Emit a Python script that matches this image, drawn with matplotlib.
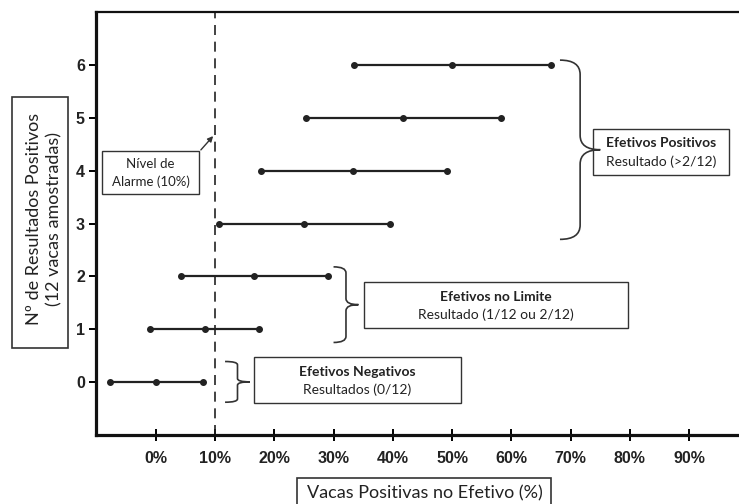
import matplotlib
matplotlib.use('Agg')
import matplotlib.pyplot as plt
from matplotlib.patches import Rectangle, PathPatch, FancyArrowPatch
from matplotlib.path import Path

# ---- data ----
results = [0, 1, 2, 3, 4, 5, 6]
lower = [-7.7, -1.0, 4.2, 10.6, 17.7, 25.3, 33.5]
point = [0.0, 8.3, 16.6, 25.0, 33.3, 41.7, 50.0]
upper = [7.9, 17.5, 29.1, 39.5, 49.1, 58.2, 66.7]
xticks = [0, 10, 20, 30, 40, 50, 60, 70, 80, 90]
xticklabels = ['0%', '10%', '20%', '30%', '40%', '50%', '60%', '70%', '80%', '90%']
yticks = [0, 1, 2, 3, 4, 5, 6]
alarm_level = 10
ylabel_lines = 'Nº de Resultados Positivos\n(12 vacas amostradas)'
xlabel_text = 'Vacas Positivas no Efetivo (%)'

W, H = 739, 504
fig = plt.figure(figsize=(W / 100, H / 100), dpi=100)
def fx(x): return x / W
def fy(y): return 1 - y / H

ax = fig.add_axes([fx(96), fy(435), fx(739) - fx(96), fy(12) - fy(435)])
ax.set_xlim(-10.07, 98.4)
ax.set_ylim(-1, 7)

for y, lo, mid, hi in zip(results, lower, point, upper):
    ax.plot([lo, hi], [y, y], color='#222222', lw=1.6, solid_capstyle='butt', zorder=3)
    ax.plot([lo, mid, hi], [y, y, y], 'o', color='#222222', ms=4, zorder=4)

ax.axvline(alarm_level, color='#222222', lw=1.2, ls=(0, (6, 4)), zorder=2)

ax.spines['right'].set_visible(False)
for s in ['left', 'bottom']:
    ax.spines[s].set_linewidth(2.3)
ax.spines['top'].set_linewidth(1.6)
for s in ax.spines.values():
    s.set_color('#111111')

ax.set_xticks(xticks)
ax.set_xticklabels(xticklabels)
ax.set_yticks(yticks)
ax.tick_params(axis='x', direction='inout', length=9, width=1.4, pad=7)
ax.tick_params(axis='y', direction='out', length=5, width=1.4, pad=3)
for lab in ax.get_xticklabels() + ax.get_yticklabels():
    lab.set_fontfamily('Liberation Sans')
    lab.set_fontweight('bold')
    lab.set_fontsize(11.5)
    lab.set_color('#222222')

# ---- braces ----
def brace(x0, yb, yt, w, ymid=None):
    if ymid is None:
        ymid = (yb + yt) / 2
    xm = x0 + w / 2
    r = (yt - yb) * 0.08
    verts = [(x0, yt), (xm, yt), (xm, yt - r), (xm, ymid + r),
             (xm, ymid), (x0 + w, ymid), (xm, ymid), (xm, ymid - r),
             (xm, yb + r), (xm, yb), (x0, yb)]
    codes = [Path.MOVETO, Path.CURVE3, Path.CURVE3, Path.LINETO,
             Path.CURVE3, Path.CURVE3, Path.CURVE3, Path.CURVE3,
             Path.LINETO, Path.CURVE3, Path.CURVE3]
    ax.add_patch(PathPatch(Path(verts, codes), fill=False, lw=1.2,
                           edgecolor='#333333', clip_on=False))

brace(68.2, 2.7, 6.09, 6.8)
brace(30.0, 0.75, 2.18, 4.2)
brace(11.7, -0.38, 0.39, 4.2)

# ---- boxes (figure pixel coordinates) ----
def box(x0, y0, x1, y1, lw=1.0):
    fig.add_artist(Rectangle((fx(x0), fy(y1)), fx(x1) - fx(x0), fy(y0) - fy(y1),
                             transform=fig.transFigure, fill=False,
                             edgecolor='#333333', lw=lw))

fam = ['Lato', 'DejaVu Sans']
bsz = 10

box(593, 129, 729, 175)
fig.text(fx(661), fy(143), 'Efetivos Positivos', ha='center', va='center',
         fontsize=bsz, fontweight='bold', family=fam, color='#222222')
fig.text(fx(661), fy(162), 'Resultado (>2/12)', ha='center', va='center',
         fontsize=bsz, family=fam, color='#222222')

box(364, 282, 628, 328)
fig.text(fx(496), fy(297), 'Efetivos no Limite', ha='center', va='center',
         fontsize=bsz, fontweight='bold', family=fam, color='#222222')
fig.text(fx(496), fy(315), 'Resultado (1/12 ou 2/12)', ha='center', va='center',
         fontsize=bsz, family=fam, color='#222222')

box(254, 357, 461, 403)
fig.text(fx(357), fy(372), 'Efetivos Negativos', ha='center', va='center',
         fontsize=bsz, fontweight='bold', family=fam, color='#222222')
fig.text(fx(357), fy(390), 'Resultados (0/12)', ha='center', va='center',
         fontsize=bsz, family=fam, color='#222222')

box(102, 151, 199, 194)
fig.text(fx(150.5), fy(164), 'Nível de', ha='center', va='center',
         fontsize=9.5, family=fam, color='#222222')
fig.text(fx(150.5), fy(182), 'Alarme (10%)', ha='center', va='center',
         fontsize=9.5, family=fam, color='#222222')
fig.add_artist(FancyArrowPatch(
    (fx(199), fy(152)), (fx(215), fy(134)), transform=fig.transFigure,
    arrowstyle='-|>', mutation_scale=8, lw=1.0, color='#333333'))

box(12, 97, 68, 348, lw=1.2)
fig.text(fx(44), fy(219), ylabel_lines, ha='center', va='center',
         rotation=90, fontsize=13, family=fam, linespacing=1.3, color='#222222')

box(297, 478, 551, 515, lw=1.2)
fig.text(fx(425), fy(493), xlabel_text, ha='center', va='center',
         fontsize=13, family=fam, color='#222222')

fig.savefig('out.png', dpi=100)
